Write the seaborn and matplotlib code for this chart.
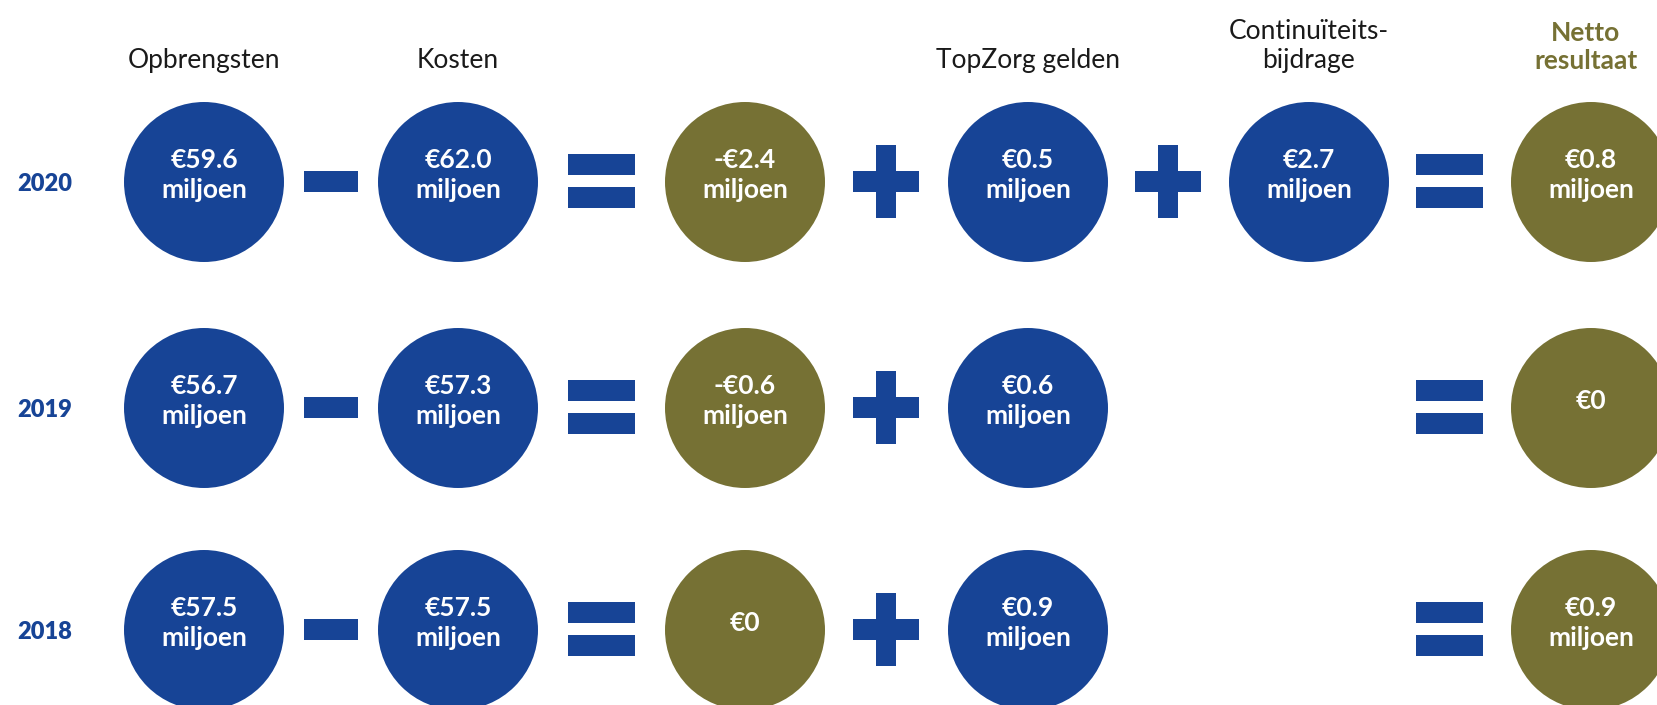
import matplotlib
matplotlib.use("Agg")
import matplotlib.pyplot as plt
from matplotlib.patches import Rectangle
import seaborn as sns
import pandas as pd

# ---------------- data ----------------
years = ["2020", "2019", "2018"]
headers = ["Opbrengsten", "Kosten", "", "TopZorg gelden", "Continuïteits-\nbijdrage", "Netto\nresultaat"]
opbrengsten = [59.6, 56.7, 57.5]
kosten = [62.0, 57.3, 57.5]
bedrijfsresultaat = [-2.4, -0.6, 0.0]
topzorg = [0.5, 0.6, 0.9]
continuiteit = [2.7, None, None]
netto = [0.8, 0.0, 0.9]
series = [opbrengsten, kosten, bedrijfsresultaat, topzorg, continuiteit, netto]
series_kind = ["blue", "blue", "olive", "blue", "blue", "olive"]

# ---------------- style / layout ----------------
BLUE = "#174496"
OLIVE = "#767134"
W, H = 1658, 705
col_x = [204, 458, 745, 1028, 1309, 1591]
row_y = [182, 408, 630]
radius = 80
year_x = 45

sns.set_theme(style="white")
plt.rcParams["font.family"] = ["Lato", "DejaVu Sans"]

fig = plt.figure(figsize=(W / 100, H / 100), dpi=100)
ax = fig.add_axes([0, 0, 1, 1])

def fmt(v):
    if v == 0:
        return "€0"
    sign = "-" if v < 0 else ""
    return f"{sign}€{abs(v):.1f}\nmiljoen"

rows = []
for r, yr in enumerate(years):
    for c, s in enumerate(series):
        v = s[r]
        if v is None:
            continue
        rows.append({"x": col_x[c], "y": row_y[r], "kind": series_kind[c], "label": fmt(v)})
df = pd.DataFrame(rows)

diam_pt = 2 * radius * 72 / 100
sns.scatterplot(data=df, x="x", y="y", hue="kind", palette={"blue": BLUE, "olive": OLIVE},
                s=diam_pt ** 2, linewidth=0, legend=False, ax=ax)
ax.set_xlim(0, W)
ax.set_ylim(H, 0)
ax.axis("off")

for _, rw in df.iterrows():
    ax.text(rw["x"], rw["y"] - 7, rw["label"], color="white", fontsize=19, fontweight="bold",
            ha="center", va="center", linespacing=1.25)

# headers
for c, h in enumerate(headers):
    if not h:
        continue
    is_net = c == len(headers) - 1
    ax.text(col_x[c] - (5 if is_net else 0), 73, h, ha="center", va="bottom", fontsize=19,
            color=OLIVE if is_net else "#1a1a1a", fontweight="bold" if is_net else "normal",
            linespacing=1.2)

# years
for r, yr in enumerate(years):
    ax.text(year_x, row_y[r] + 2, yr, color=BLUE, fontsize=17, fontweight="heavy",
            ha="center", va="center")

# operators
def minus(xc, yc):
    ax.add_patch(Rectangle((xc - 27, yc - 10.5), 54, 21, color=BLUE, lw=0))

def equals(xc, yc):
    ax.add_patch(Rectangle((xc - 33.5, yc - 27), 67, 21, color=BLUE, lw=0))
    ax.add_patch(Rectangle((xc - 33.5, yc + 6), 67, 21, color=BLUE, lw=0))

def plus(xc, yc):
    ax.add_patch(Rectangle((xc - 33, yc - 10.5), 66, 21, color=BLUE, lw=0))
    ax.add_patch(Rectangle((xc - 10, yc - 36.5), 20, 73, color=BLUE, lw=0))

for r in range(len(years)):
    yc = row_y[r] - 1
    mid = lambda a, b: (col_x[a] + col_x[b]) / 2
    minus(mid(0, 1), yc)
    equals(mid(1, 2), yc)
    plus(mid(2, 3), yc)
    if continuiteit[r] is not None:
        plus(mid(3, 4), yc)
    equals(mid(4, 5), yc)

fig.savefig("out.png", dpi=100)
